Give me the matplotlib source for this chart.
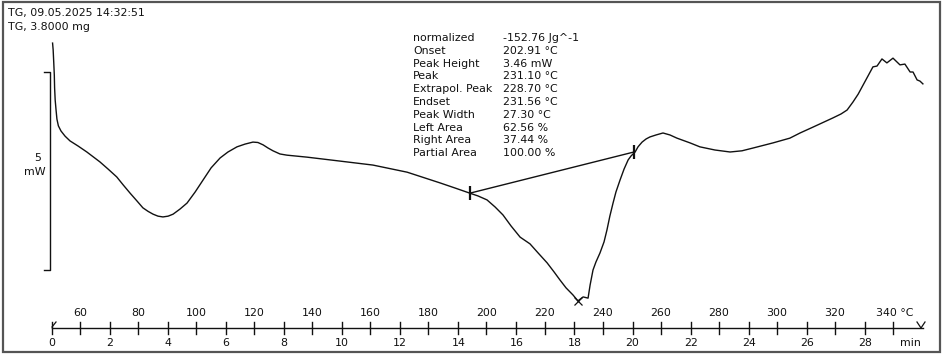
import numpy as np
import matplotlib
matplotlib.use('Agg')
import matplotlib.pyplot as plt
from matplotlib.patches import Rectangle

# DSC signal (time in min, signal in mW, arbitrary offset)
time_min = [0.03, 0.05, 0.07, 0.09, 0.10, 0.12, 0.15, 0.18, 0.23, 0.32,
            0.46, 0.63, 0.91, 1.21, 1.66, 1.94, 2.24, 2.46, 2.70, 2.94,
            3.14, 3.32, 3.49, 3.66, 3.83, 4.01, 4.18, 4.42, 4.66, 4.94,
            5.21, 5.49, 5.80, 6.07, 6.38, 6.66, 6.93, 7.10, 7.28, 7.45,
            7.62, 7.86, 8.10, 8.79, 9.93, 11.06, 12.24, 13.37, 13.89, 14.40,
            14.68, 14.99, 15.27, 15.54, 15.82, 16.13, 16.47, 16.75, 17.06, 17.30,
            17.50, 17.71, 17.95, 18.12, 18.30, 18.47, 18.54, 18.64, 18.74, 18.88,
            19.02, 19.12, 19.22, 19.33, 19.43, 19.57, 19.71, 19.85, 19.95, 20.09,
            20.19, 20.33, 20.47, 20.60, 20.81, 21.05, 21.29, 21.53, 21.98, 22.32,
            22.84, 23.36, 23.77, 24.15, 24.84, 25.42, 25.77, 26.22, 26.90, 27.18,
            27.39, 27.59, 27.77, 27.94, 28.11, 28.28, 28.42, 28.59, 28.76, 28.97,
            29.21, 29.38, 29.56, 29.66, 29.80, 29.90, 30.00]
dsc_mw = [5.73, 5.56, 5.25, 4.92, 4.60, 4.29, 4.04, 3.81, 3.64, 3.51,
          3.38, 3.26, 3.13, 2.98, 2.73, 2.55, 2.35, 2.15, 1.94, 1.74,
          1.57, 1.48, 1.41, 1.36, 1.34, 1.36, 1.41, 1.54, 1.69, 1.97,
          2.27, 2.58, 2.83, 2.98, 3.11, 3.18, 3.23, 3.22, 3.16, 3.08,
          3.01, 2.93, 2.90, 2.85, 2.75, 2.65, 2.47, 2.20, 2.07, 1.94,
          1.87, 1.77, 1.59, 1.39, 1.11, 0.83, 0.66, 0.43, 0.18, -0.05,
          -0.25, -0.45, -0.63, -0.78, -0.68, -0.71, -0.38, 0.00, 0.20, 0.43,
          0.71, 1.01, 1.36, 1.69, 1.97, 2.27, 2.55, 2.78, 2.88, 2.98,
          3.11, 3.23, 3.31, 3.36, 3.41, 3.46, 3.41, 3.33, 3.21, 3.11,
          3.03, 2.98, 3.01, 3.08, 3.21, 3.33, 3.46, 3.61, 3.84, 3.94,
          4.04, 4.24, 4.44, 4.67, 4.90, 5.13, 5.15, 5.33, 5.23, 5.35,
          5.18, 5.20, 5.00, 5.00, 4.80, 4.77, 4.70]

# integration baseline (onset / endset limits)
base_time = [14.40, 20.05]
base_mw = [1.94, 2.98]

time_ticks = list(range(0, 30, 2))
temp_ticks = list(range(60, 341, 20))
T0 = 50.3      # start temperature
rate = 10.0    # K/min

header = ['TG, 09.05.2025 14:32:51', 'TG, 3.8000 mg']
res_names = ['normalized', 'Onset', 'Peak Height', 'Peak', 'Extrapol. Peak', 'Endset',
             'Peak Width', 'Left Area', 'Right Area', 'Partial Area']
res_values = ['-152.76 Jg^-1', '202.91 °C', '3.46 mW', '231.10 °C', '228.70 °C',
              '231.56 °C', '27.30 °C', '62.56 %', '37.44 %', '100.00 %']

W, H = 942, 356
fig = plt.figure(figsize=(W / 100, H / 100), dpi=100)
ax = fig.add_axes([0, 0, 1, 1])
# pixel scale: 29.04 px per minute, 39.6 px per mW
ax.set_xlim(-51.7 / 29.04, (W - 51.7) / 29.04)
ax.set_ylim((270 - H) / 39.6, 270 / 39.6)
ax.axis('off')

def px(x, y):
    # pixel position -> data coords (for layout only)
    return (x - 51.7) / 29.04, (270 - y) / 39.6

fs = 7.9
col = '#111111'

# outer frame
fig.patches.append(Rectangle((3 / W, 1 - 352 / H), 937 / W, 350 / H, transform=fig.transFigure,
                             fill=False, edgecolor='#555555', linewidth=1.6))

# curve
ax.plot(time_min, dsc_mw, color=col, linewidth=1.0)

# baseline + limit markers
ax.plot(base_time, base_mw, color=col, linewidth=1.0)
ax.plot(base_time, base_mw, linestyle='none', marker='|', markersize=10, markeredgewidth=1.6, color=col)

# peak marker
i_pk = int(np.argmin(dsc_mw))
ax.plot(time_min[i_pk], dsc_mw[i_pk], marker='x', markersize=6, markeredgewidth=0.9, color=col)

# scale bar 5 mW
x0, y_top = px(50, 72)
_, y_bot = px(50, 270)
xl, _ = px(44, 0)
ax.plot([xl, x0, x0, xl], [y_top, y_top, y_bot, y_bot], color=col, linewidth=1.0)
ax.text(*px(38, 158), '5', fontsize=fs, ha='center', va='center', color=col)
ax.text(*px(35, 172), 'mW', fontsize=fs, ha='center', va='center', color=col)

# header
ax.text(*px(8, 13), header[0], fontsize=fs, ha='left', va='center', color=col)
ax.text(*px(8, 27), header[1], fontsize=fs, ha='left', va='center', color=col)

# results table
for k, (nm, vl) in enumerate(zip(res_names, res_values)):
    yy = 38 + k * 12.8
    ax.text(*px(413, yy), nm, fontsize=fs, ha='left', va='center', color=col)
    ax.text(*px(503, yy), vl, fontsize=fs, ha='left', va='center', color=col)

# time / temperature ruler
_, y_ax = px(0, 328)
_, y_t1 = px(0, 322)
_, y_t2 = px(0, 334)
_, y_lab_t = px(0, 343)
_, y_lab_T = px(0, 313)
ax.plot([0, 30], [y_ax, y_ax], color=col, linewidth=1.0)
for t in time_ticks:
    ax.plot([t, t], [y_t1, y_t2], color=col, linewidth=1.0)
    ax.text(t, y_lab_t, str(t), fontsize=fs, ha='center', va='center', color=col)
for T in temp_ticks:
    tt = (T - T0) / rate
    ax.plot([tt, tt], [y_t1, y_t2], color=col, linewidth=1.0)
    if T == temp_ticks[-1]:
        ax.text(tt - 0.6, y_lab_T, str(T) + ' °C', fontsize=fs, ha='left', va='center', color=col)
    else:
        ax.text(tt, y_lab_T, str(T), fontsize=fs, ha='center', va='center', color=col)
ax.text(*px(910, 343), 'min', fontsize=fs, ha='center', va='center', color=col)

# ruler ends
a, b = px(52, 327)
c, d = px(56, 322)
ax.plot([a, c], [b, d], color=col, linewidth=0.9)
e, f = px(921, 328)
g, h = px(917, 322)
k2, l2 = px(925, 322)
ax.plot([g, e, k2], [h, f, h], color=col, linewidth=0.9)

fig.savefig('out.png', dpi=100)
